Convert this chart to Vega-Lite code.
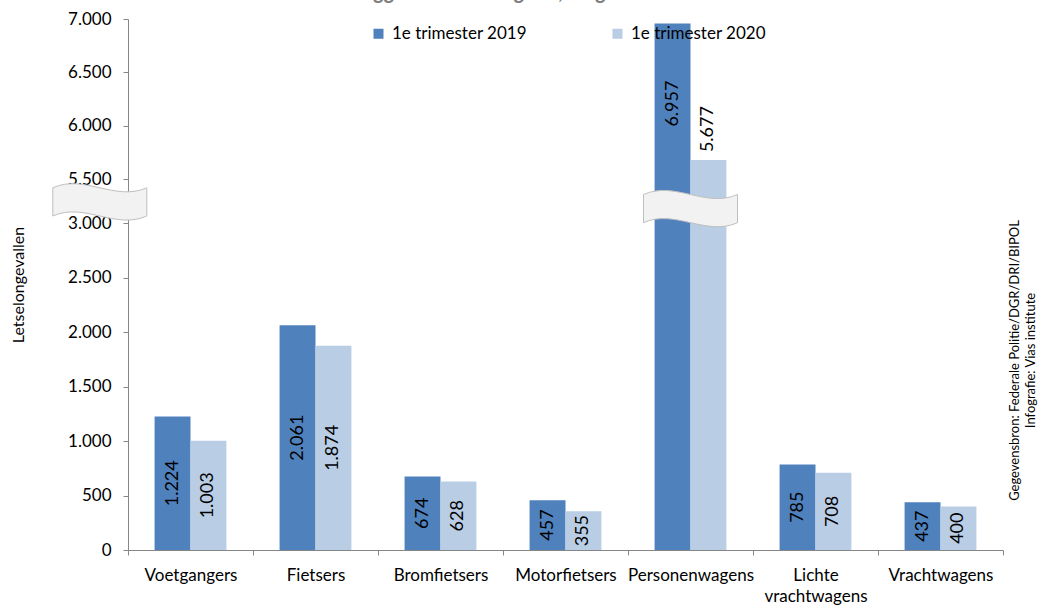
{
  "$schema": "https://vega.github.io/schema/vega-lite/v6.json",
  "width": 875,
  "height": 531,
  "autosize": "none",
  "padding": {"left": 128, "top": 19, "right": 35, "bottom": 55},
  "config": {
    "locale": {"number": {"decimal": ",", "thousands": ".", "grouping": [3], "currency": ["€ ", ""]}},
    "font": "Lato",
    "view": {"stroke": null},
    "axis": {"domainColor": "#868686", "tickColor": "#868686", "labelColor": "#000000", "titleColor": "#000000", "grid": false},
    "axisX": {"labelAngle": 0, "tickBand": "extent", "tickSize": 5, "labelFontSize": 17, "labelPadding": 12, "labelLineHeight": 21, "title": null,
      "labelExpr": "datum.label == 'Lichte vrachtwagens' ? ['Lichte', 'vrachtwagens'] : datum.label"}
  },
  "title": {"text": "weggebruikerscategorie, België", "fontSize": 21, "fontStyle": "italic", "fontWeight": "bold", "color": "#7f7f7f", "anchor": "middle", "offset": 7, "dx": -80},
  "data": {"values": [
    {"categorie": "Voetgangers", "periode": "1e trimester 2019", "waarde": 1224},
    {"categorie": "Voetgangers", "periode": "1e trimester 2020", "waarde": 1003},
    {"categorie": "Fietsers", "periode": "1e trimester 2019", "waarde": 2061},
    {"categorie": "Fietsers", "periode": "1e trimester 2020", "waarde": 1874},
    {"categorie": "Bromfietsers", "periode": "1e trimester 2019", "waarde": 674},
    {"categorie": "Bromfietsers", "periode": "1e trimester 2020", "waarde": 628},
    {"categorie": "Motorfietsers", "periode": "1e trimester 2019", "waarde": 457},
    {"categorie": "Motorfietsers", "periode": "1e trimester 2020", "waarde": 355},
    {"categorie": "Personenwagens", "periode": "1e trimester 2019", "waarde": 6957},
    {"categorie": "Personenwagens", "periode": "1e trimester 2020", "waarde": 5677},
    {"categorie": "Lichte vrachtwagens", "periode": "1e trimester 2019", "waarde": 785},
    {"categorie": "Lichte vrachtwagens", "periode": "1e trimester 2020", "waarde": 708},
    {"categorie": "Vrachtwagens", "periode": "1e trimester 2019", "waarde": 437},
    {"categorie": "Vrachtwagens", "periode": "1e trimester 2020", "waarde": 400}
  ]},
  "layer": [
    {
      "mark": {"type": "bar"},
      "encoding": {
        "x": {"field": "categorie", "type": "nominal", "title": null,
          "sort": ["Voetgangers", "Fietsers", "Bromfietsers", "Motorfietsers", "Personenwagens", "Lichte vrachtwagens", "Vrachtwagens"],
          "scale": {"paddingInner": 0, "paddingOuter": 0}},
        "xOffset": {"field": "periode", "type": "nominal", "scale": {"paddingInner": 0, "paddingOuter": 0.74}},
        "y": {"field": "waarde", "type": "quantitative",
          "scale": {"domain": [0, 3000, 5500, 7000], "range": [531, 204, 160, 0], "nice": false},
          "axis": {"values": [0, 500, 1000, 1500, 2000, 2500, 3000, 5500, 6000, 6500, 7000], "format": ",d", "title": "Letselongevallen",
            "labelFontSize": 17, "tickSize": 5, "labelPadding": 12, "titleFontSize": 16, "titleFontWeight": "normal",
            "titleX": -102, "titleBaseline": "bottom"}},
        "color": {"field": "periode", "type": "nominal", "scale": {"range": ["#4f81bd", "#b9cde5"]},
          "legend": {"title": null, "orient": "none", "legendX": 242, "legendY": 6, "direction": "horizontal", "columns": 2,
            "symbolType": "square", "symbolSize": 100, "labelFontSize": 17, "columnPadding": 82, "labelOffset": 5, "labelColor": "#000000"}}
      }
    },
    {
      "transform": [{"filter": "datum.categorie !== 'Personenwagens'"}],
      "mark": {"type": "text", "angle": 270, "fontSize": 18, "color": "#000000"},
      "encoding": {
        "x": {"field": "categorie", "type": "nominal", "title": null,
          "sort": ["Voetgangers", "Fietsers", "Bromfietsers", "Motorfietsers", "Personenwagens", "Lichte vrachtwagens", "Vrachtwagens"]},
        "xOffset": {"field": "periode", "type": "nominal"},
        "y": {"field": "waarde", "type": "quantitative",
          "scale": {"domain": [0, 6000, 11000, 14000], "range": [531, 204, 160, 0], "nice": false},
          "axis": {"orient": "right", "labels": false, "ticks": false, "domain": false, "grid": false,
            "title": ["Gegevensbron: Federale Politie/DGR/DRI/BIPOL", "Infografie: Vias institute"],
            "titleAngle": 270, "titleFontSize": 13, "titleFontWeight": "normal", "titleBaseline": "top", "titleAlign": "center",
            "titleX": 5, "titleY": 341, "titleLineHeight": 16}},
        "text": {"field": "waarde", "type": "quantitative", "format": ",d"}
      }
    },
    {
      "transform": [{"filter": "datum.categorie === 'Personenwagens' && datum.periode === '1e trimester 2019'"}],
      "mark": {"type": "text", "angle": 270, "fontSize": 18, "color": "#000000", "dx": -80},
      "encoding": {
        "x": {"field": "categorie", "type": "nominal", "title": null,
          "sort": ["Voetgangers", "Fietsers", "Bromfietsers", "Motorfietsers", "Personenwagens", "Lichte vrachtwagens", "Vrachtwagens"]},
        "xOffset": {"field": "periode", "type": "nominal"},
        "y": {"field": "waarde", "type": "quantitative", "axis": null,
          "scale": {"domain": [0, 3000, 5500, 7000], "range": [531, 204, 160, 0], "nice": false}},
        "text": {"field": "waarde", "type": "quantitative", "format": ",d"}
      }
    },
    {
      "transform": [{"filter": "datum.categorie === 'Personenwagens' && datum.periode === '1e trimester 2020'"}],
      "mark": {"type": "text", "angle": 270, "fontSize": 18, "color": "#000000", "dx": 31},
      "encoding": {
        "x": {"field": "categorie", "type": "nominal", "title": null,
          "sort": ["Voetgangers", "Fietsers", "Bromfietsers", "Motorfietsers", "Personenwagens", "Lichte vrachtwagens", "Vrachtwagens"]},
        "xOffset": {"field": "periode", "type": "nominal"},
        "y": {"field": "waarde", "type": "quantitative", "axis": null,
          "scale": {"domain": [0, 3000, 5500, 7000], "range": [531, 204, 160, 0], "nice": false}},
        "text": {"field": "waarde", "type": "quantitative", "format": ",d"}
      }
    },
    {
      "data": {"values": [{"breuk": "as"}]},
      "mark": {"type": "point", "filled": true, "fill": "#f2f2f2", "stroke": "#bfbfbf", "strokeWidth": 1, "opacity": 1, "size": 8836,
        "shape": "M -2.93 -0.3 C -2.26 -0.6 -1.6 0 -0.93 -0.3 L -0.93 0.3 C -1.6 0.6 -2.26 0 -2.93 0.3 Z"},
      "encoding": {
        "x": {"datum": "Voetgangers", "type": "nominal", "title": null},
        "y": {"datum": 4200, "type": "quantitative", "axis": null,
          "scale": {"domain": [0, 3000, 5500, 7000], "range": [531, 204, 160, 0], "nice": false}}
      }
    },
    {
      "data": {"values": [{"breuk": "staaf"}]},
      "mark": {"type": "point", "filled": true, "fill": "#f2f2f2", "stroke": "#bfbfbf", "strokeWidth": 1, "opacity": 1, "size": 8836,
        "shape": "M -1 -0.12 C -0.33 -0.42 0.33 0.18 1 -0.12 L 1 0.48 C 0.33 0.78 -0.33 0.18 -1 0.48 Z"},
      "encoding": {
        "x": {"datum": "Personenwagens", "type": "nominal", "title": null},
        "y": {"datum": 4300, "type": "quantitative", "axis": null,
          "scale": {"domain": [0, 3000, 5500, 7000], "range": [531, 204, 160, 0], "nice": false}}
      }
    }
  ],
  "resolve": {"scale": {"y": "independent"}}
}
